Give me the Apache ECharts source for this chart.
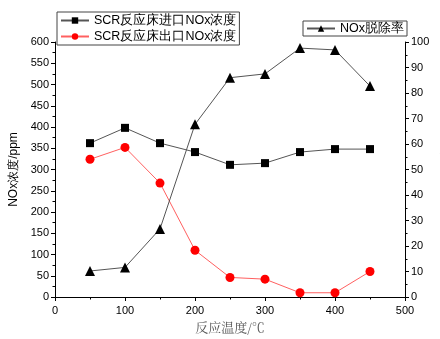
<!DOCTYPE html>
<html><head><meta charset="utf-8">
<script src="https://cdn.jsdelivr.net/npm/echarts@6/dist/echarts.min.js"></script>
<style>html,body{margin:0;padding:0;background:#fff}#c{width:440px;height:339px}</style>
</head><body><div id="c"></div>
<script>
const temperatures = [50, 100, 150, 200, 250, 300, 350, 400, 450];
const inletNOx = [362, 398, 362, 341, 311, 315, 341, 348, 348];
const outletNOx = [324, 352, 268, 110, 46, 42, 10, 10, 60];
const removalRate = [10.2, 11.6, 26.7, 67.7, 86, 87.5, 97.6, 96.9, 82.7];
const nameInlet = 'SCR反应床进口NOx浓度';
const nameOutlet = 'SCR反应床出口NOx浓度';
const nameRate = 'NOx脱除率';

const pairs = v => temperatures.map((t, i) => [t, v[i]]);
const font = 'Liberation Sans, Arial, sans-serif';
const axisCommon = {
  axisLine: {show: true, lineStyle: {color: '#000', width: 1}},
  axisTick: {show: true, inside: false, length: 4, lineStyle: {color: '#000'}},
  minorTick: {show: true, splitNumber: 2, length: 2.5, lineStyle: {color: '#000'}},
  splitLine: {show: false},
  axisLabel: {color: '#000', fontSize: 11, fontFamily: font}
};
const chart = echarts.init(document.getElementById('c'), null, {renderer: 'canvas'});
chart.setOption({
  animation: false,
  backgroundColor: '#fff',
  grid: {left: 55, right: 35, top: 42, bottom: 42, containLabel: false, outerBoundsMode: 'none'},
  legend: [
    {
      data: [nameInlet, nameOutlet], orient: 'vertical', left: 57, top: 12,
      itemWidth: 28, itemHeight: 8, itemGap: 3, padding: [2, 3, 2, 3],
      borderColor: '#444', borderWidth: 1, backgroundColor: '#fff',
      textStyle: {fontSize: 12.5, fontFamily: font, color: '#000'}
    },
    {
      data: [nameRate], left: 303, top: 21,
      itemWidth: 28, itemHeight: 8, padding: [1, 3, 1, 3],
      borderColor: '#444', borderWidth: 1, backgroundColor: '#fff',
      textStyle: {fontSize: 12.5, fontFamily: font, color: '#000'}
    }
  ],
  xAxis: Object.assign({}, axisCommon, {
    type: 'value', min: 0, max: 500, interval: 100,
    name: '反应温度/℃', nameLocation: 'middle', nameGap: 21,
    nameTextStyle: {fontSize: 13, color: '#555', fontFamily: 'Noto Serif CJK SC, Noto Sans CJK SC, serif'},
    axisLabel: {color: '#000', fontSize: 11, fontFamily: font, margin: 8}
  }),
  yAxis: [
    Object.assign({}, axisCommon, {
      type: 'value', min: 0, max: 600, interval: 50, position: 'left',
      name: 'NOx浓度/ppm', nameLocation: 'middle', nameGap: 32, nameRotate: 90,
      nameTextStyle: {fontSize: 12, color: '#000', fontFamily: font},
      axisLabel: {color: '#000', fontSize: 11, fontFamily: font, margin: 6}
    }),
    Object.assign({}, axisCommon, {
      type: 'value', min: 0, max: 100, interval: 10, position: 'right',
      name: 'NOx脱除率/%', nameLocation: 'middle', nameGap: 25, nameRotate: 90,
      nameTextStyle: {fontSize: 12, color: '#000', fontFamily: font},
      axisLabel: {color: '#000', fontSize: 11, fontFamily: font, margin: 6}
    })
  ],
  series: [
    {
      name: nameInlet, type: 'line', yAxisIndex: 0, data: pairs(inletNOx),
      symbol: 'rect', symbolSize: 8,
      itemStyle: {color: '#000'}, lineStyle: {color: '#555', width: 1}
    },
    {
      name: nameOutlet, type: 'line', yAxisIndex: 0, data: pairs(outletNOx),
      symbol: 'circle', symbolSize: 9,
      itemStyle: {color: '#ff0000'}, lineStyle: {color: '#ff6060', width: 1}
    },
    {
      name: nameRate, type: 'line', yAxisIndex: 1, data: pairs(removalRate),
      symbol: 'triangle', symbolSize: 10,
      itemStyle: {color: '#000'}, lineStyle: {color: '#555', width: 1}
    }
  ]
});
</script></body></html>
